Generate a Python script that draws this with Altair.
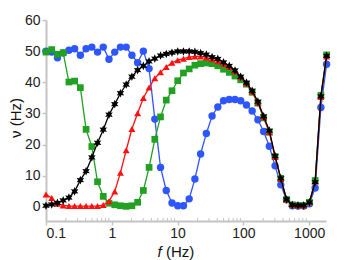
import altair as alt
import pandas as pd

# frequency grid (Hz)
freq = [0.1, 0.1222, 0.1493, 0.1824, 0.2229, 0.2724, 0.3328, 0.4066, 0.4968, 0.607,
        0.7417, 0.9064, 1.108, 1.353, 1.654, 2.021, 2.469, 3.017, 3.687, 4.505,
        5.504, 6.726, 8.218, 10.04, 12.27, 14.99, 18.32, 22.38, 27.35, 33.41,
        40.83, 49.89, 60.96, 74.49, 91.0, 111.2, 135.9, 166.0, 202.9, 247.9,
        302.9, 370.1, 452.2, 552.6, 675.2, 825.0, 1008, 1232, 1505, 1839]

blue = [50.0, 49.7, 47.9, 49.4, 50.3, 50.8, 48.7, 50.8, 51.3, 49.7,
        51.3, 47.4, 49.7, 51.3, 51.3, 48.7, 46.3, 50.0, 44.4, 28.2,
        12.7, 5.3, 1.3, 0.4, 0.4, 2.6, 9.0, 17.0, 23.6, 29.2,
        32.1, 34.1, 34.5, 34.5, 34.1, 32.7, 30.8, 28.0, 24.2, 19.5,
        13.2, 7.1, 2.3, 0.4, 0.3, 0.3, 1.0, 6.1, 31.9, 45.8]

green = [49.7, 50.5, 49.0, 49.5, 40.1, 40.4, 38.3, 24.9, 19.4, 8.1,
         3.4, 1.2, 0.7, 0.4, 0.2, 0.4, 1.5, 5.3, 12.7, 21.7,
         28.9, 34.3, 37.3, 40.5, 43.0, 44.3, 45.5, 46.0, 46.2, 46.0,
         45.3, 44.2, 43.2, 42.0, 40.8, 39.4, 36.8, 33.3, 28.6, 24.0,
         16.2, 9.2, 2.4, 0.7, 0.5, 0.5, 1.5, 8.5, 35.8, 48.8]

red = [4.0, 2.9, 1.0, 0.5, 0.3, 0.3, 0.3, 0.3, 0.3, 0.3,
       0.6, 1.8, 5.0, 11.0, 18.2, 25.0, 30.1, 35.0, 38.3, 41.3,
       43.2, 44.9, 46.3, 47.1, 47.6, 48.1, 48.3, 48.3, 48.0, 47.4,
       46.8, 45.9, 44.9, 43.5, 41.6, 39.7, 37.0, 33.5, 28.8, 24.0,
       16.0, 9.0, 2.4, 0.7, 0.5, 0.5, 1.5, 8.2, 35.3, 48.3]

black = [0.4, 0.8, 1.3, 2.1, 3.0, 5.0, 8.6, 11.5, 15.9, 20.6,
         24.8, 29.6, 33.0, 36.5, 39.3, 41.8, 43.9, 45.3, 46.7, 47.6,
         48.6, 49.1, 49.5, 49.9, 49.9, 49.9, 49.8, 49.4, 48.9, 48.1,
         47.5, 46.4, 45.3, 43.8, 41.8, 39.9, 37.3, 33.8, 29.1, 24.5,
         16.3, 9.2, 2.4, 0.7, 0.5, 0.5, 1.5, 8.0, 35.5, 48.5]

x_major = [0.1, 1, 10, 100, 1000]
x_minor = [0.2, 0.3, 0.4, 0.5, 0.6, 0.7, 0.8, 0.9,
           2, 3, 4, 5, 6, 7, 8, 9,
           20, 30, 40, 50, 60, 70, 80, 90,
           200, 300, 400, 500, 600, 700, 800, 900]
y_ticks = [0, 10, 20, 30, 40, 50, 60]

STAR6 = ("M0,-1L0.25,-0.433L0.866,-0.5L0.5,0L0.866,0.5L0.25,0.433L0,1"
         "L-0.25,0.433L-0.866,0.5L-0.5,0L-0.866,-0.5L-0.25,-0.433Z")

series = [("blue", blue, "#2e56ff", "circle", 55),
          ("green", green, "#22a022", "square", 45),
          ("red", red, "#ff1010", "triangle-up", 48),
          ("black", black, "#000000", STAR6, 75)]

xscale = alt.Scale(type="log", domain=[0.1, 1800], nice=False)
yscale = alt.Scale(domain=[-4.5, 60], nice=False)

FONT = "Liberation Sans"
axis_common = dict(labelFont=FONT, labelFontSize=14, labelColor="#222222",
                   domainColor="#c4c4c4", domainWidth=2, tickColor="#c4c4c4",
                   tickWidth=1.5, tickSize=4, grid=False, title=None)

xenc = alt.X("f:Q", scale=xscale,
             axis=alt.Axis(values=x_major, format="~g", orient="bottom",
                           labelPadding=1, **axis_common))
yenc = alt.Y("v:Q", scale=yscale,
             axis=alt.Axis(values=y_ticks, orient="left", labelPadding=2, **axis_common))

layers = []
for name, vals, color, shape, size in series:
    df = pd.DataFrame({"f": freq, "v": vals})
    base = alt.Chart(df).encode(x=xenc, y=yenc)
    layers.append(base.mark_line(color=color, strokeWidth=1.3))
    layers.append(base.mark_point(color=color, fill=color, filled=True, opacity=1,
                                  shape=shape, size=size))

minor_df = pd.DataFrame({"f": x_minor})
minor = alt.Chart(minor_df).mark_rule(color="#c4c4c4", strokeWidth=1).encode(
    x=xenc, y=alt.value(198), y2=alt.value(201))

title_f = alt.Chart(pd.DataFrame({"t": ["f"]})).mark_text(
    font=FONT, fontSize=15, fontStyle="italic", align="center", baseline="middle", color="#111111"
).encode(text="t:N", x=alt.value(113.5), y=alt.value(232))
title_hz = alt.Chart(pd.DataFrame({"t": ["(Hz)"]})).mark_text(
    font=FONT, fontSize=15, align="left", baseline="middle", color="#111111"
).encode(text="t:N", x=alt.value(120), y=alt.value(232))
title_y = alt.Chart(pd.DataFrame({"t": ["ν  (Hz)"]})).mark_text(
    font=FONT, fontSize=15, align="center", baseline="middle", angle=270, color="#111111"
).encode(text="t:N", x=alt.value(-30), y=alt.value(98))

chart = alt.layer(*layers, minor, title_f, title_hz, title_y).properties(
    width=280, height=201,
    autosize=alt.AutoSizeParams(type="none"),
    padding={"left": 38, "top": 12, "right": 10, "bottom": 40},
).configure_view(stroke=None)

chart.save("out.html", embed_options={"renderer": "svg", "actions": False})
